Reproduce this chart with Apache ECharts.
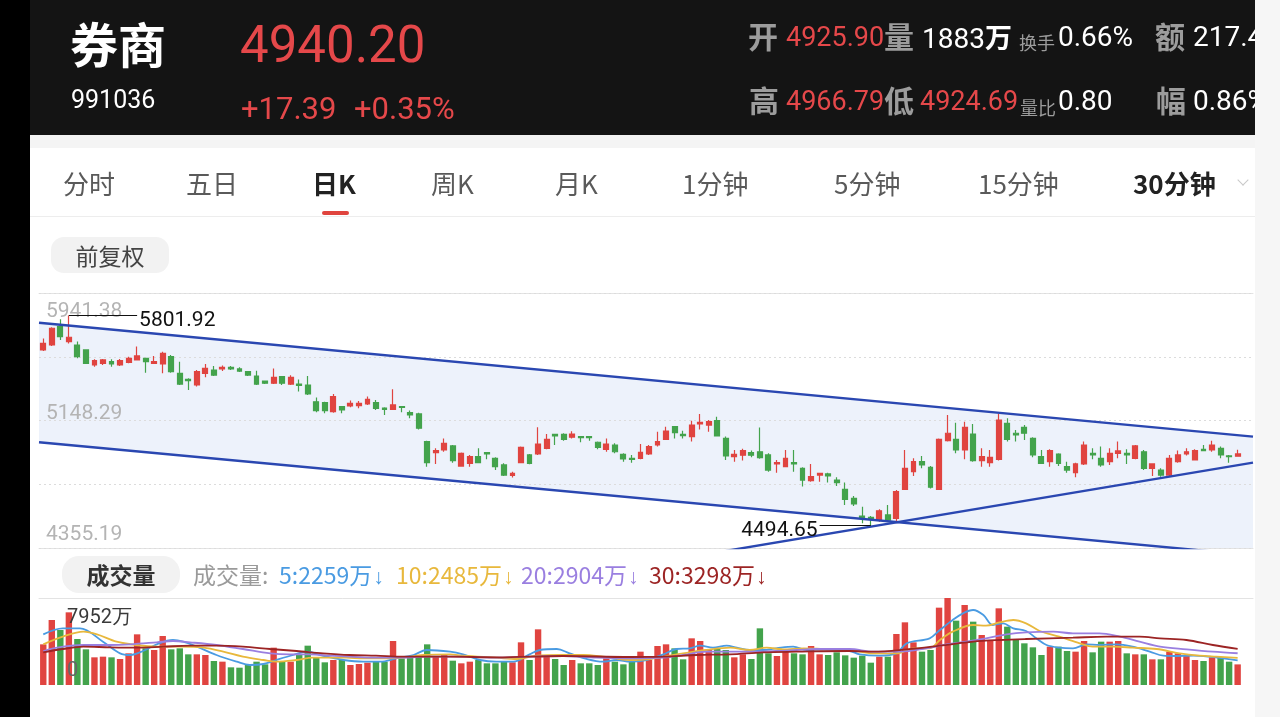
<!DOCTYPE html>
<html>
<head>
<meta charset="utf-8">
<title>券商 日K</title>
<script src="https://cdn.jsdelivr.net/npm/echarts@6/dist/echarts.min.js"></script>
<style>
  html, body { margin:0; padding:0; width:1280px; height:717px; overflow:hidden; background:#000; }
  body { position:relative; font-family:"Noto Sans CJK SC","Noto Sans",sans-serif; }
  .blk { position:absolute; }
  .t { position:absolute; white-space:nowrap; z-index:3; }
  .num { font-family:Roboto,"Noto Sans",sans-serif; }
  .g { color:#9c9c9c; font-weight:bold; font-size:30px; line-height:40px; }
  .r { color:#e5484a; font-size:27px; line-height:40px; }
  .w { color:#fff; font-size:28px; line-height:40px; }
  .sm { color:#9c9c9c; font-size:18px; line-height:30px; }
  .tab { font-size:26px; line-height:36px; color:#5a5a5a; }
  .tab.on { color:#222; font-weight:bold; }
  .lg { font-size:23px; line-height:32px; }
  .arr { font-family:"Liberation Sans","DejaVu Sans",sans-serif; font-size:21px; margin-left:1px; }
</style>
</head>
<body>
<div class="blk" style="left:30px;top:0;width:1225px;height:135px;background:#141414"></div>
<div class="blk" style="left:30px;top:135px;width:1225px;height:582px;background:#fff"></div>
<div class="blk" style="left:30px;top:135px;width:1225px;height:13px;background:#f4f4f4"></div>
<div class="blk" style="left:30px;top:216px;width:1225px;height:1px;background:#ededed"></div>
<div class="blk" style="left:1255px;top:0;width:25px;height:717px;background:#f6f6f6;z-index:6"></div>

<!-- header -->
<div class="t" style="left:70px;top:12px;font-size:48px;line-height:60px;font-weight:bold;color:#fff">券商</div>
<div class="t num" style="left:240px;top:15px;font-size:51px;line-height:60px;color:#e5484a">4940.20</div>
<div class="t num" style="left:71px;top:85px;font-size:25px;line-height:30px;color:#fff">991036</div>
<div class="t num" style="left:241px;top:91px;font-size:31px;line-height:36px;color:#e5484a">+17.39</div>
<div class="t num" style="left:354px;top:91px;font-size:31px;line-height:36px;color:#e5484a">+0.35%</div>

<div class="t g" style="left:748px;top:15px">开</div>
<div class="t num r" style="left:786px;top:17px">4925.90</div>
<div class="t g" style="left:884px;top:15px">量</div>
<div class="t num w" style="left:922px;top:17px">1883<span style="font-family:'Noto Sans CJK SC';font-weight:bold;font-size:27px">万</span></div>
<div class="t sm" style="left:1019px;top:27px">换手</div>
<div class="t num w" style="left:1058px;top:17px">0.66%</div>
<div class="t g" style="left:1155px;top:15px">额</div>
<div class="t num w" style="left:1193px;top:17px">217.4亿</div>

<div class="t g" style="left:749px;top:79px">高</div>
<div class="t num r" style="left:786px;top:81px">4966.79</div>
<div class="t g" style="left:884px;top:79px">低</div>
<div class="t num r" style="left:920px;top:81px">4924.69</div>
<div class="t sm" style="left:1020px;top:92px">量比</div>
<div class="t num w" style="left:1058px;top:81px">0.80</div>
<div class="t g" style="left:1156px;top:79px">幅</div>
<div class="t num w" style="left:1193px;top:81px">0.86%</div>

<!-- tabs -->
<div class="t tab" style="left:63px;top:165px">分时</div>
<div class="t tab" style="left:186px;top:165px">五日</div>
<div class="t tab on" style="left:312px;top:165px">日K</div>
<div class="t tab" style="left:431px;top:165px">周K</div>
<div class="t tab" style="left:555px;top:165px">月K</div>
<div class="t tab" style="left:682px;top:165px">1分钟</div>
<div class="t tab" style="left:834px;top:165px">5分钟</div>
<div class="t tab" style="left:978px;top:165px">15分钟</div>
<div class="t tab on" style="left:1133px;top:165px">30分钟</div>
<div class="blk" style="left:1239px;top:176px;width:7px;height:7px;border-right:1.5px solid #c8c8c8;border-bottom:1.5px solid #c8c8c8;transform:rotate(45deg);z-index:3"></div>
<div class="blk" style="left:322px;top:211px;width:27px;height:4px;border-radius:2px;background:#e0443e;z-index:3"></div>

<div class="blk" style="left:51px;top:237px;width:118px;height:36px;border-radius:13px;background:#f2f2f2;z-index:3;text-align:center;font-size:23px;line-height:36px;color:#444">前复权</div>
<div class="blk" style="left:62px;top:556px;width:118px;height:37px;border-radius:17px;background:#f2f2f2;z-index:3;text-align:center;font-size:23px;line-height:37px;color:#333;font-weight:bold">成交量</div>

<div class="t lg" style="left:193px;top:558px;color:#9a9a9a">成交量:</div>
<div class="t lg" style="left:279px;top:558px;color:#4a9be2">5:2259万<span class="arr">↓</span></div>
<div class="t lg" style="left:396px;top:558px;color:#e8b83c">10:2485万<span class="arr">↓</span></div>
<div class="t lg" style="left:521px;top:558px;color:#9a7fe0">20:2904万<span class="arr">↓</span></div>
<div class="t lg" style="left:649px;top:558px;color:#9c2424">30:3298万<span class="arr">↓</span></div>

<div id="chart" style="position:absolute;left:0;top:0;width:1280px;height:717px;z-index:2"></div>

<script>
const RED = '#e04440', GREEN = '#43a34c';
const xMin = -0.5, xMax = 141.8;
const priceMin = 4355.19, priceMax = 5941.38;
const priceTickLabels = ['4355.19', '', '5148.29', '', '5941.38'];
const volMax = 7952;
const volTickLabels = ['0', '7952万'];

// [open, close, low, high]
const kline = [
[5587,5628,5581,5659],[5618,5722,5612,5728],[5732,5670,5649,5778],[5639,5666,5628,5801.92],[5618,5545,5535,5639],
[5587,5504,5500,5591],[5494,5521,5483,5529],[5504,5525,5494,5531],[5514,5500,5483,5529],[5494,5521,5487,5531],
[5510,5535,5504,5545],[5525,5550,5521,5608],[5535,5514,5446,5537],[5504,5514,5500,5550],[5500,5566,5442,5576],
[5545,5452,5446,5556],[5442,5375,5369,5514],[5404,5396,5338,5411],[5369,5452,5359,5462],[5442,5473,5417,5500],
[5462,5431,5425,5487],[5469,5479,5456,5491],[5479,5469,5462,5487],[5469,5456,5450,5479],[5452,5431,5425,5456],
[5425,5375,5369,5458],[5394,5380,5375,5396],[5380,5417,5375,5471],[5421,5380,5369,5425],[5375,5417,5369,5429],
[5375,5367,5328,5404],[5369,5313,5307,5425],[5265,5210,5199,5292],[5259,5210,5193,5265],[5203,5297,5197,5313],
[5234,5214,5193,5239],[5239,5255,5230,5272],[5241,5255,5224,5270],[5251,5280,5245,5297],[5259,5224,5214,5276],
[5226,5218,5183,5230],[5218,5245,5214,5342],[5234,5230,5199,5239],[5197,5183,5162,5210],[5189,5100,5093,5197],
[5017,4886,4861,5023],[4948,4961,4878,4975],[4965,5006,4954,5037],[4990,4899,4886,4996],[4865,4944,4861,4950],
[4882,4923,4861,4934],[4923,4886,4882,4975],[4948,4940,4907,4950],[4913,4861,4840,4919],[4872,4809,4803,4882],
[4807,4820,4793,4830],[4886,4981,4882,4986],[4934,4882,4876,4940],[4940,5002,4934,5106],[4975,5031,4969,5064],
[5062,5052,4996,5064],[5062,5031,5023,5069],[5044,5064,5037,5081],[5048,5042,5013,5052],[5048,5042,5023,5052],
[5013,4981,4969,5017],[4969,5002,4954,5037],[4996,4954,4944,5006],[4938,4909,4892,4944],[4913,4907,4886,4934],
[4913,4950,4907,5002],[4940,4986,4934,4996],[4996,5017,4986,5079],[5031,5083,5027,5110],[5110,5073,5037,5114],
[5062,5054,5037,5085],[5048,5120,5017,5147],[5127,5137,5093,5189],[5120,5141,5079,5151],[5147,5052,5048,5172],
[5037,4928,4903,5048],[4923,4938,4892,4965],[4932,4961,4899,4973],[4948,4932,4919,4961],[4954,4917,4911,5104],
[4934,4840,4830,4944],[4878,4886,4824,4903],[4861,4913,4857,4965],[4886,4878,4830,4965],[4851,4778,4737,4857],
[4774,4799,4768,4878],[4809,4820,4768,4824],[4816,4803,4762,4824],[4778,4762,4741,4795],[4720,4658,4623,4762],
[4664,4629,4617,4679],[4554,4540,4509,4612],[4546,4534,4494.65,4554],[4529,4587,4519,4596],[4561,4529,4519,4623],
[4540,4706,4519,4716],[4720,4851,4716,4965],[4830,4892,4803,4913],[4892,4872,4851,4928],[4857,4733,4726,4865],
[4720,5031,4716,5037],[5023,5069,5017,5183],[5031,4965,4944,5135],[4965,5106,4907,5141],[5064,4899,4892,5127],
[4899,4923,4861,4975],[4886,4919,4861,4965],[4907,5151,4899,5189],[5131,5031,5017,5162],[5069,5058,5017,5089],
[5106,5069,5027,5120],[5037,4934,4919,5044],[4923,4882,4878,4965],[4892,4961,4861,4969],[4940,4882,4865,4944],
[4861,4840,4824,4892],[4824,4878,4795,4886],[4878,4996,4872,5017],[4944,4934,4907,4975],[4913,4872,4861,4986],
[4892,4944,4872,4975],[4944,4959,4913,5017],[4944,4934,4878,4969],[4913,4990,4907,4996],[4954,4851,4840,4965],
[4851,4878,4803,4882],[4840,4809,4799,4851],[4809,4913,4803,4934],[4892,4934,4886,4961],[4940,4954,4930,4975],
[4903,4961,4899,4969],[4969,4961,4957,4996],[4965,4996,4954,5023],[4975,4934,4913,4986],[4928,4922.81,4886,4934],
[4925.90,4940.20,4924.69,4966.79]
];

// 成交量 (万)
const volumes = [
3717,5942,5028,6642,4205,3260,2529,2590,2529,2377,
2895,4631,3352,3200,4479,3260,3352,2803,2803,2742,
2194,2133,1615,1584,1828,2133,1889,3413,2133,2133,
2742,3595,2499,2072,2285,2285,1828,1920,2041,2133,
2133,4022,2438,2590,2742,3717,2630,2742,2224,1981,
2133,2285,1981,1981,2133,2072,3900,2285,5088,2590,
2377,1828,2285,1981,1981,1828,2438,2133,1889,2133,
3047,2285,3565,3717,3352,2346,4266,4022,3200,3291,
3200,2529,2803,2377,5180,2895,2651,3047,2895,2803,
3565,2803,2742,2986,2710,2499,2681,2041,2590,2590,
4662,5728,3900,3047,3200,7069,7952,5881,7313,5789,
4570,4022,7008,5332,4113,3809,3443,2742,3504,3504,
3108,3047,4022,2986,3961,3961,4022,2895,2803,2803,
2346,2346,3047,2895,2742,2285,2194,2529,2499,2133,
1883
];

// moving-average lines: [bar position, 万]
const ma5 = [[0,4631],[2.3,5180],[4.3,5180],[7,3961],[9,2895],[10.2,2742],[11.7,3108],[13.3,3717],[15.2,4113],[16.4,3961],[18,3504],[20.3,2742],[22.7,2133],[24.2,1828],[25.8,1920],[27.3,2285],[29.3,2742],[30.9,3047],[32.8,2651],[35.2,2285],[37.5,2133],[39.5,2133],[41.4,2438],[43.4,2742],[44.9,3199],[47.7,3047],[49.2,2803],[51.2,2285],[53.1,2133],[55.1,2133],[57,2803],[58.2,3199],[60.2,3291],[61.7,2895],[63.7,2377],[65.6,2133],[67.2,2285],[68.8,2133],[70.7,2285],[72.7,2803],[74.2,3291],[75.8,3352],[77,3595],[78.5,3413],[80.1,3595],[81.3,3413],[82.8,3199],[84.4,3199],[85.9,3352],[87.9,3504],[89.5,3199],[91.4,3260],[94.5,3108],[95.7,2803],[98,2681],[100,2895],[101.2,3809],[103.9,4266],[105.1,5027],[106.6,5942],[107.8,6551],[109,6856],[110.2,6399],[111.3,5485],[112.5,5637],[113.7,5180],[115.2,4936],[116.4,4266],[117.6,3656],[119.1,3413],[120.7,3352],[122.3,3717],[123.8,3656],[125.8,3717],[127.7,3504],[129.7,3047],[131.3,2681],[132.8,2651],[134.8,2681],[136.7,2590],[138.3,2438],[140,2259]];
const ma10 = [[0,3717],[2.3,4418],[4.7,4875],[6.3,4631],[8.6,3961],[10.9,3656],[13.3,3504],[16,3504],[18.8,3413],[21.1,3047],[23.4,2590],[25.8,2285],[27.3,2133],[29.7,2285],[31.6,2499],[35.5,2499],[37.5,2438],[39.8,2438],[42.2,2499],[44.5,2742],[47.7,2803],[49.2,2681],[53.1,2499],[55.5,2377],[57.8,2681],[60.9,2742],[63.3,2742],[65.6,2590],[68.8,2285],[71.1,2377],[73.4,2681],[75.8,2986],[77.7,3199],[80.5,3413],[82.8,3199],[84.8,3413],[86.7,3260],[89.1,3352],[91.4,3291],[94.5,3199],[97.3,2895],[100,2895],[102,3352],[103.9,3352],[105.1,4113],[106.6,4875],[109,5485],[110.5,5424],[112.1,5728],[113.7,5942],[115.2,5637],[116.8,4936],[119.1,4418],[121.5,3809],[123,3504],[125.4,3504],[127.7,3413],[130.5,3291],[133.2,2895],[135.5,2681],[137.5,2590],[140,2485]];
const ma20 = [[0,3108],[2.3,3504],[4.7,3656],[7.8,3656],[10.2,3717],[13.3,3900],[15.2,4022],[17.2,3900],[20.3,3656],[23.4,3291],[26.6,2895],[28.9,2803],[31.3,2803],[33.6,2681],[35.9,2590],[39,2499],[42.2,2499],[45.3,2590],[47.7,2590],[49.2,2590],[53.1,2499],[57,2590],[60.9,2651],[64.8,2499],[68.8,2438],[72.7,2499],[75,2742],[77.7,3047],[80.5,3047],[82.8,3047],[85.9,3108],[88.3,3199],[90.6,3291],[94.5,3291],[97.3,3047],[100.4,3047],[103.5,3352],[105.9,3717],[108.2,3961],[110.5,4266],[112.9,4631],[115.2,4814],[118.4,4875],[120.7,4723],[123.8,4723],[126.2,4418],[128.5,3961],[130.9,3504],[134,3260],[137.1,3047],[140,2904]];
const ma30 = [[0,2986],[2.3,3291],[4.7,3504],[7.8,3443],[10.9,3413],[14.1,3504],[17.2,3595],[20.3,3595],[23.4,3504],[26.6,3291],[29.7,3108],[32.8,2895],[35.9,2742],[39,2681],[42.2,2590],[45.3,2590],[47.7,2590],[53.1,2529],[60.9,2651],[68.8,2560],[72.7,2590],[76.6,2742],[80.5,2803],[84.4,2986],[88.3,3047],[94.5,3108],[97.3,3047],[101.2,3260],[105.1,3595],[109,3961],[112.1,4113],[115.2,4205],[120.7,4327],[124.6,4418],[128.5,4418],[130.9,4266],[134,4113],[137.1,3656],[140,3298]];

// trend lines (bar position, price)
const channelUpper = [[-0.5, 5756], [141.8, 5048]];
const channelLower = [[-0.5, 5013], [141.8, 4310]];
const supportLine = [[80, 4337], [141.8, 4886]];
const highMark = { index: 3, value: 5801.92, to: 11 };
const lowMark = { index: 97, value: 4494.65, from: 91 };

const up = kline.map(k => k[1] >= k[0]);

function clipBelow(poly, minV) {
  const out = [];
  for (let i = 0; i < poly.length; i++) {
    const a = poly[i], b = poly[(i + 1) % poly.length];
    const ain = a[1] >= minV, bin = b[1] >= minV;
    if (ain) out.push(a);
    if (ain !== bin) {
      const t = (minV - a[1]) / (b[1] - a[1]);
      out.push([a[0] + t * (b[0] - a[0]), minV]);
    }
  }
  return out;
}

const chart = echarts.init(document.getElementById('chart'));
const lineCol = '#e3e3e3';
const hiddenX = { axisTick:{show:false}, axisLabel:{show:false}, splitLine:{show:false} };
const priceRich = {};
[0, 2, 4].forEach(i => {
  priceRich['p' + i] = { color:'#b4b4b4', fontSize:21, fontFamily:'Roboto',
    padding: i === 4 ? [38,0,0,0] : (i === 2 ? [0,0,14,0] : [0,0,26,0]) };
});

chart.setOption({
  animation: false,
  grid: [
    { left: 39, right: 27, top: 293, height: 255, outerBoundsMode: 'none' },
    { left: 39, right: 27, top: 598, height: 87, outerBoundsMode: 'none' }
  ],
  xAxis: [
    Object.assign({ type:'value', gridIndex:0, min:xMin, max:xMax, axisLine:{show:true, onZero:false, lineStyle:{color:lineCol, width:1}} }, hiddenX),
    Object.assign({ type:'value', gridIndex:1, min:xMin, max:xMax, axisLine:{show:false} }, hiddenX),
    Object.assign({ type:'value', gridIndex:0, position:'top', min:xMin, max:xMax, axisLine:{show:true, onZero:false, lineStyle:{color:lineCol, width:1}} }, hiddenX),
    Object.assign({ type:'value', gridIndex:1, position:'top', min:xMin, max:xMax, axisLine:{show:true, onZero:false, lineStyle:{color:lineCol, width:1}} }, hiddenX)
  ],
  yAxis: [
    { type:'value', gridIndex:0, min:priceMin, max:priceMax, show:false },
    { type:'value', gridIndex:0, min:0, max:4, interval:1, position:'left', z:1.5,
      axisLine:{show:false}, axisTick:{show:false},
      splitLine:{show:true, lineStyle:{color:'#dcdcdc', width:1, type:[2,3]}},
      axisLabel:{ show:true, inside:true, interval:0, hideOverlap:false, showMinLabel:true, showMaxLabel:true,
        margin:7, color:'#b4b4b4', fontSize:21, fontFamily:'Roboto',
        formatter: v => { const i = Math.round(v); const t = priceTickLabels[i]; return t ? '{p' + i + '|' + t + '}' : ''; },
        rich: priceRich
      }
    },
    { type:'value', gridIndex:1, min:0, max:volMax, interval:volMax, position:'left', z:10,
      axisLine:{show:false}, axisTick:{show:false}, splitLine:{show:false},
      axisLabel:{ inside:true, margin:28, fontSize:20, fontFamily:'Roboto', hideOverlap:false,
        formatter: v => v >= volMax ? '{top|' + volTickLabels[1] + '}' : '{bot|' + volTickLabels[0] + '}',
        rich: {
          top: { color:'#3a3a3a', fontSize:20, fontFamily:'Roboto', padding:[39,0,0,0] },
          bot: { color:'#666', fontSize:20, fontFamily:'Roboto', padding:[0,0,29,0] }
        }
      }
    }
  ],
  series: [
    { type:'custom', xAxisIndex:0, yAxisIndex:0, clip:true, silent:true, z:1,
      data:[[xMin, priceMin]], encode:{x:0, y:1},
      renderItem: function (params, api) {
        const poly = clipBelow([channelUpper[0], channelUpper[1], channelLower[1], channelLower[0]], priceMin);
        return { type:'polygon', shape:{ points: poly.map(p => api.coord(p)) }, style:{ fill:'#edf2fb' } };
      }
    },
    { type:'candlestick', xAxisIndex:0, yAxisIndex:0, z:2,
      data: kline.map((k, i) => [i, k[0], k[1], k[2], k[3]]),
      encode: { x:0, y:[1,2,3,4] },
      barWidth: 5.4,
      itemStyle: { color:RED, color0:GREEN, borderColor:RED, borderColor0:GREEN, borderWidth:1.2 },
      markLine: {
        silent:true, animation:false, symbol:['none','none'],
        lineStyle:{ color:'#111', width:1, type:'solid' },
        data: [
          [ { coord:[highMark.index, highMark.value],
              label:{ show:true, position:'end', distance:2, formatter:'{a|' + highMark.value.toFixed(2) + '}',
                      rich:{ a:{ color:'#111', fontSize:21, fontFamily:'Roboto', padding:[10,0,0,0] } } } },
            { coord:[highMark.to, highMark.value] } ],
          [ { coord:[lowMark.from, lowMark.value],
              label:{ show:true, position:'start', distance:2, formatter:'{a|' + lowMark.value.toFixed(2) + '}',
                      rich:{ a:{ color:'#111', fontSize:21, fontFamily:'Roboto', padding:[10,0,0,0] } } } },
            { coord:[lowMark.index, lowMark.value] } ]
        ]
      }
    },
    ...[channelUpper, channelLower, supportLine].map(d => ({
      type:'line', xAxisIndex:0, yAxisIndex:0, data:d, symbol:'none', silent:true, clip:true, z:4,
      lineStyle:{ color:'#2a47b1', width:2.4 }
    })),
    { type:'bar', xAxisIndex:1, yAxisIndex:2, barWidth:6.4, z:2,
      data: volumes.map((v, i) => ({ value:[i, v], itemStyle:{ color: up[i] ? RED : GREEN } })) },
    ...[[ma5,'#4a9be2'],[ma10,'#e8b83c'],[ma20,'#9a7fe0'],[ma30,'#9c2424']].map(([d, c]) => ({
      type:'line', xAxisIndex:1, yAxisIndex:2, data:d, smooth:0.35, symbol:'none', silent:true, z:3,
      lineStyle:{ color:c, width:1.8 }
    }))
  ]
});
</script>
</body>
</html>
